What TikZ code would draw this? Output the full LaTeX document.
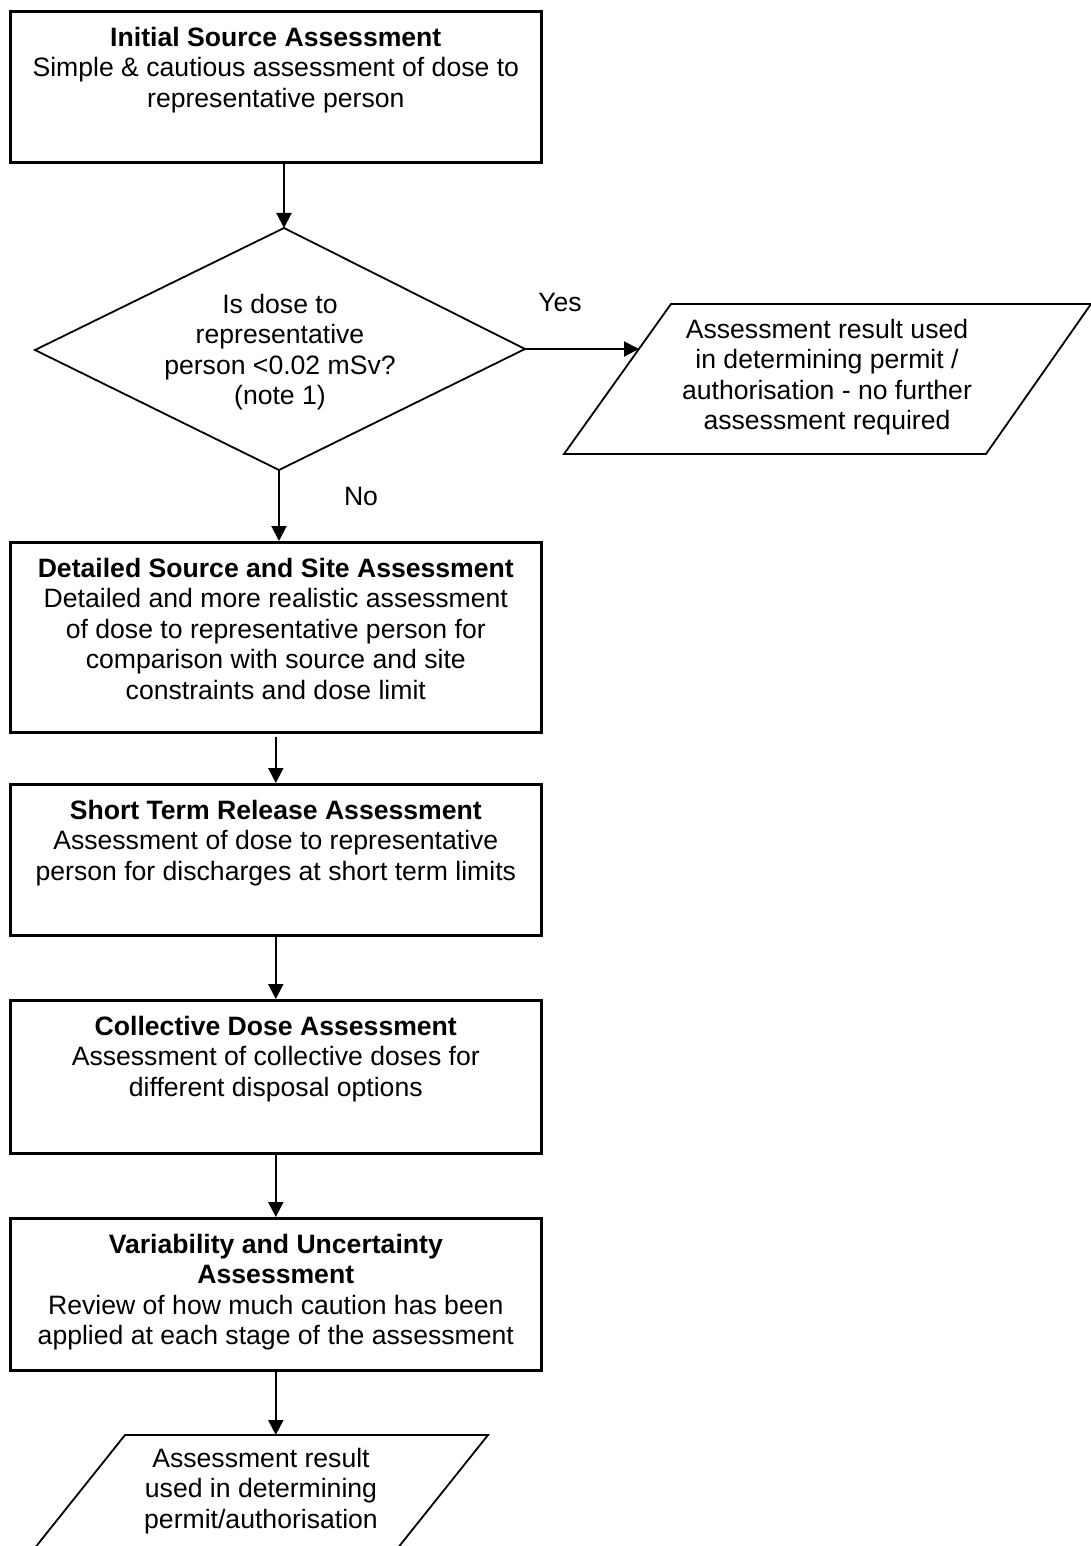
\documentclass[tikz,border=0pt]{standalone}
\usepackage{fontspec}
\setmainfont{Liberation Sans}
\usetikzlibrary{arrows.meta,positioning}
\begin{document}
\begin{tikzpicture}[x=1pt,y=-1pt,
  box/.style={draw, line width=2.6pt, minimum width=531pt, anchor=north west, inner sep=0pt},
  txt/.style={align=center, inner sep=0pt, font=\fontsize{26.6}{30.5}\selectfont},
  shp/.style={draw, line width=1.8pt, line join=miter},
  arr/.style={line width=2pt, -{Triangle[length=15pt,width=15pt]}}]
\clip (0,0) rectangle (1091,1546);
\fill[white] (0,0) rectangle (1091,1546);

% boxes
\node[box, minimum height=151pt] (b1) at (9,10) {};
\node[txt, anchor=north] (t1) at ([yshift=-17pt]b1.north) {\textbf{Initial Source Assessment}\\Simple \& cautious assessment of dose to\\representative person};

\node[box, minimum height=190pt] (b2) at (9,541) {};
\node[txt, anchor=north] (t2) at ([yshift=-17pt]b2.north) {\textbf{Detailed Source and Site Assessment}\\Detailed and more realistic assessment\\of dose to representative person for\\comparison with source and site\\constraints and dose limit};

\node[box, minimum height=151pt] (b3) at (9,783) {};
\node[txt, anchor=north] (t3) at ([yshift=-17pt]b3.north) {\textbf{Short Term Release Assessment}\\Assessment of dose to representative\\person for discharges at short term limits};

\node[box, minimum height=153pt] (b4) at (9,999) {};
\node[txt, anchor=north] (t4) at ([yshift=-17pt]b4.north) {\textbf{Collective Dose Assessment}\\Assessment of collective doses for\\different disposal options};

\node[box, minimum height=152pt] (b5) at (9,1217) {};
\node[txt, anchor=north] (t5) at ([yshift=-17pt]b5.north) {\textbf{Variability and Uncertainty}\\\textbf{Assessment}\\Review of how much caution has been\\applied at each stage of the assessment};

% decision diamond
\coordinate (dt) at (284,228);
\coordinate (dr) at (525,349);
\coordinate (db) at (279,470);
\coordinate (dl) at (35,350);
\draw[shp] (dt) -- (dr) -- (db) -- (dl) -- cycle;
\node[txt] (dq) at (280,352) {Is dose to\\representative\\person <0.02 mSv?\\(note 1)};

% output parallelogram 1
\coordinate (p1a) at (671,304);
\coordinate (p1b) at (1091,304);
\coordinate (p1c) at (986,454);
\coordinate (p1d) at (564,454);
\coordinate (p1in) at (639,349);
\draw[shp] (p1a) -- (p1b) -- (p1c) -- (p1d) -- cycle;
\node[txt] (pt1) at (827,377) {Assessment result used\\in determining permit /\\authorisation - no further\\assessment required};

% output parallelogram 2
\coordinate (q1) at (125,1435);
\coordinate (q2) at (488,1435);
\coordinate (q3) at (397,1549);
\coordinate (q4) at (34,1549);
\draw[shp] (q1) -- (q2) -- (q3) -- (q4) -- cycle;
\node[txt] (pt2) at (261,1491) {Assessment result\\used in determining\\permit/authorisation};

% labels
\node[txt] (yes) at (560,302) {Yes};
\node[txt] (no) at (361,496) {No};

% connectors
\draw[arr] (b1.south -| dt) -- (dt);
\draw[arr] (dr) -- (p1in);
\draw[arr] (db) -- (db |- b2.north);
\draw[arr] ([yshift=-3pt]b2.south) -- (b3.north);
\draw[arr] (b3.south) -- (b4.north);
\draw[arr] (b4.south) -- (b5.north);
\draw[arr] (b5.south) -- (b5.south |- q1);
\end{tikzpicture}
\end{document}
